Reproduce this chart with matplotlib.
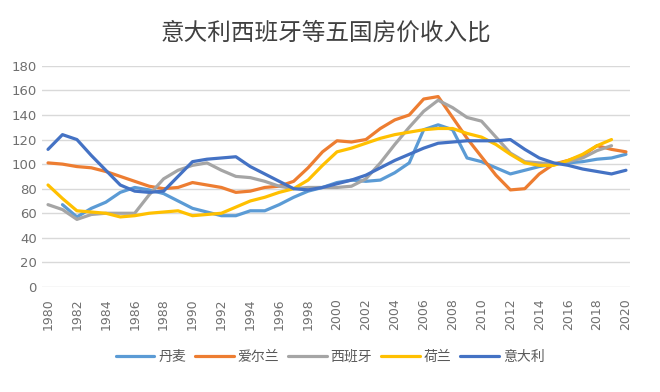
import matplotlib.pyplot as plt
import numpy as np

plt.rcParams['font.family'] = ['Noto Sans CJK SC', 'DejaVu Sans']

years = np.arange(1980, 2021)

# 房价收入比, 读图估计
denmark = [np.nan, 67, 57, 64, 69, 77, 81, 79, 76, 70,
           64, 61, 58, 58, 62, 62, 67, 73, 78, 81,
           85, 87, 86, 87, 93, 101, 128, 132, 128, 105,
           102, 97, 92, 95, 98, 100, 101, 102, 104, 105, 108]
ireland = [101, 100, 98, 97, 94, 90, 86, 82, 80, 81,
           85, 83, 81, 77, 78, 81, 82, 86, 97, 110,
           119, 118, 120, 129, 136, 140, 153, 155, 138, 121,
           106, 91, 79, 80, 92, 100, 103, 107, 115, 112, 110]
spain = [67, 63, 55, 59, 60, 60, 60, 75, 88, 95,
         99, 101, 95, 90, 89, 86, 82, 80, 81, 81,
         81, 82, 88, 101, 116, 130, 143, 152, 146, 138,
         135, 122, 109, 102, 101, 100, 102, 105, 111, 115, np.nan]
netherlands = [83, 72, 62, 61, 60, 57, 58, 60, 61, 62,
               58, 59, 60, 65, 70, 73, 77, 80, 87, 99,
               110, 113, 117, 121, 124, 126, 128, 129, 129, 125,
               122, 116, 108, 101, 99, 99, 103, 108, 115, 120, np.nan]
italy = [112, 124, 120, 107, 95, 83, 78, 77, 78, 90,
         102, 104, 105, 106, 98, 92, 86, 80, 79, 81,
         84, 87, 91, 97, 103, 108, 113, 117, 118, 119,
         119, 119, 120, 112, 105, 101, 99, 96, 94, 92, 95]

names = ['丹麦', '爱尔兰', '西班牙', '荷兰', '意大利']
colors = ['#5B9BD5', '#ED7D31', '#A5A5A5', '#FFC000', '#4472C4']

fig = plt.figure(figsize=(6.6, 3.92), dpi=100)
ax = fig.add_axes([0.064, 0.268, 0.891, 0.564])

for data, name, c in zip([denmark, ireland, spain, netherlands, italy], names, colors):
    ax.plot(years, data, color=c, lw=2.3, label=name, solid_capstyle='round')

ax.set_ylim(0, 180)
ax.set_yticks(range(0, 181, 20))
ax.set_xlim(1979.6, 2020.3)
ax.set_xticks(range(1980, 2021, 2))
ax.tick_params(axis='x', rotation=90, length=0, labelsize=9, colors='#6F6F6F', pad=8)
ax.tick_params(axis='y', length=0, labelsize=9.5, colors='#6F6F6F', pad=4)
for lab in ax.get_xticklabels() + ax.get_yticklabels():
    lab.set_family('DejaVu Sans')
ax.grid(axis='y', color='#D9D9D9', lw=1)
ax.set_axisbelow(True)
for s in ax.spines.values():
    s.set_visible(False)

fig.text(0.494, 0.915, '意大利西班牙等五国房价收入比', ha='center', va='center',
         fontsize=17, color='#404040')

leg = fig.legend(loc='center', bbox_to_anchor=(0.5, 0.09), ncol=5, frameon=False,
                 fontsize=10, handlelength=2.8, columnspacing=0.6, handletextpad=0.3)
for t in leg.get_texts():
    t.set_color('#595959')

fig.savefig('out.png', dpi=100)
